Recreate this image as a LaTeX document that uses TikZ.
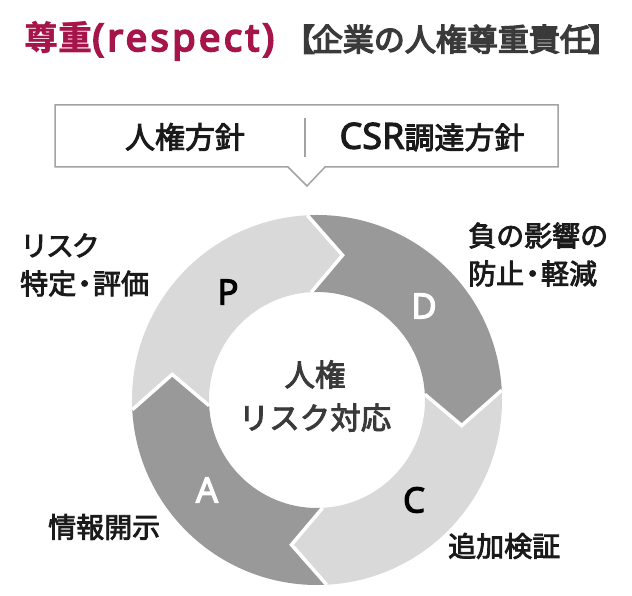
\documentclass[tikz,border=0pt]{standalone}
\usepackage{fontspec}
\setmainfont{Noto Sans CJK JP}[FakeBold=3]
\newfontfamily\jpt{Noto Sans CJK JP}
\newfontfamily\jpg{Noto Sans CJK JP}[FakeBold=4.5]
\newfontfamily\lat{Noto Sans}[FakeBold=3]
\newfontfamily\latb{Noto Sans}[FakeBold=5, LetterSpace=9]
\definecolor{titlered}{HTML}{A6154A}
\definecolor{titlegray}{HTML}{3A3A3A}
\definecolor{segl}{HTML}{D9D9D9}
\definecolor{segd}{HTML}{999999}
\definecolor{boxline}{HTML}{A3A3A3}
\definecolor{txt}{HTML}{1A1A1A}
\tikzset{
  lbl/.style={inner sep=0pt, text=txt, font=\fontsize{28}{38}\selectfont, align=left, anchor=west},
  boxtxt/.style={inner sep=0pt, text=txt, font=\fontsize{30}{36}\selectfont},
  letter/.style={inner sep=0pt, font=\lat\fontsize{35}{40}\selectfont},
  gap/.style={draw=white, line width=3.5pt},
}
\newcommand\mdot{\kern-0.2em・\kern-0.2em}
\begin{document}
\begin{tikzpicture}[x=1pt,y=1pt]
\useasboundingbox (0,0) rectangle (632,596);
% title
\node[inner sep=0pt, anchor=base west, text=titlered, font=\jpt\bfseries\fontsize{34}{40}\selectfont] (t1) at (24,545) {尊重};
\node[inner sep=0pt, anchor=base west, text=titlered, font=\latb\fontsize{38}{40}\selectfont] (t2) at (t1.base east) {(respect)};
\node[inner sep=0pt, anchor=base east, text=titlegray, font=\jpg\fontsize{31}{40}\selectfont] (t3) at (619,545) {【\kern-0.1em 企業の人権尊重責任\kern-0.1em】};
% policy box
\draw[boxline, line width=1.5pt, fill=white] (55,491) -- (558,491) -- (558,429) -- (325,429) -- (307,410) -- (288,429) -- (55,429) -- cycle;
\coordinate (divtop) at (305,478);
\coordinate (divbot) at (305,439);
\draw[boxline, line width=1.5pt] (divtop) -- (divbot);
\node[boxtxt] (pol1) at (185,459) {人権方針};
\node[boxtxt] (pol2) at (432,459) {{\lat\fontsize{36}{36}\selectfont CSR}調達方針};
% cycle ring
\begin{scope}[shift={(317,196)}]
  \def\Ro{185pt}\def\Ri{108pt}\def\Rm{147pt}
  \foreach \a/\b/\c in {183/93/segl, 93/3/segd, 3/-87/segl, -87/-177/segd}{
    \fill[\c] (\a:\Ro) arc[start angle=\a, end angle=\b, radius=\Ro]
      -- ({\b-13}:\Rm) -- (\b:\Ri) arc[start angle=\b, end angle=\a, radius=\Ri]
      -- ({\a-13}:\Rm) -- cycle;
  }
  \foreach \b in {93,3,-87,-177}{
    \draw[gap] (\b:\Ro) -- ({\b-13}:\Rm) -- (\b:\Ri);
  }
\end{scope}
\node[inner sep=0pt, text=titlegray, align=center, font=\fontsize{30.5}{43}\selectfont] (core) at (315,200) {人権\\リスク対応};
\node[letter, text=black] (P) at (228,304) {P};
\node[letter, text=white] (D) at (424,290) {D};
\node[letter, text=black] (C) at (414,96) {C};
\node[letter, text=white] (A) at (207,106) {A};
% outer labels
\node[lbl] (lp) at (20,331) {リ\kern-0.08emス\kern-0.08emク\\特定\mdot 評価};
\node[lbl] (ld) at (468,341.5) {負の影響の\\防止\mdot 軽減};
\node[lbl] (la) at (48,69) {情報開示};
\node[lbl] (lc) at (448,50) {追加検証};
\end{tikzpicture}
\end{document}
